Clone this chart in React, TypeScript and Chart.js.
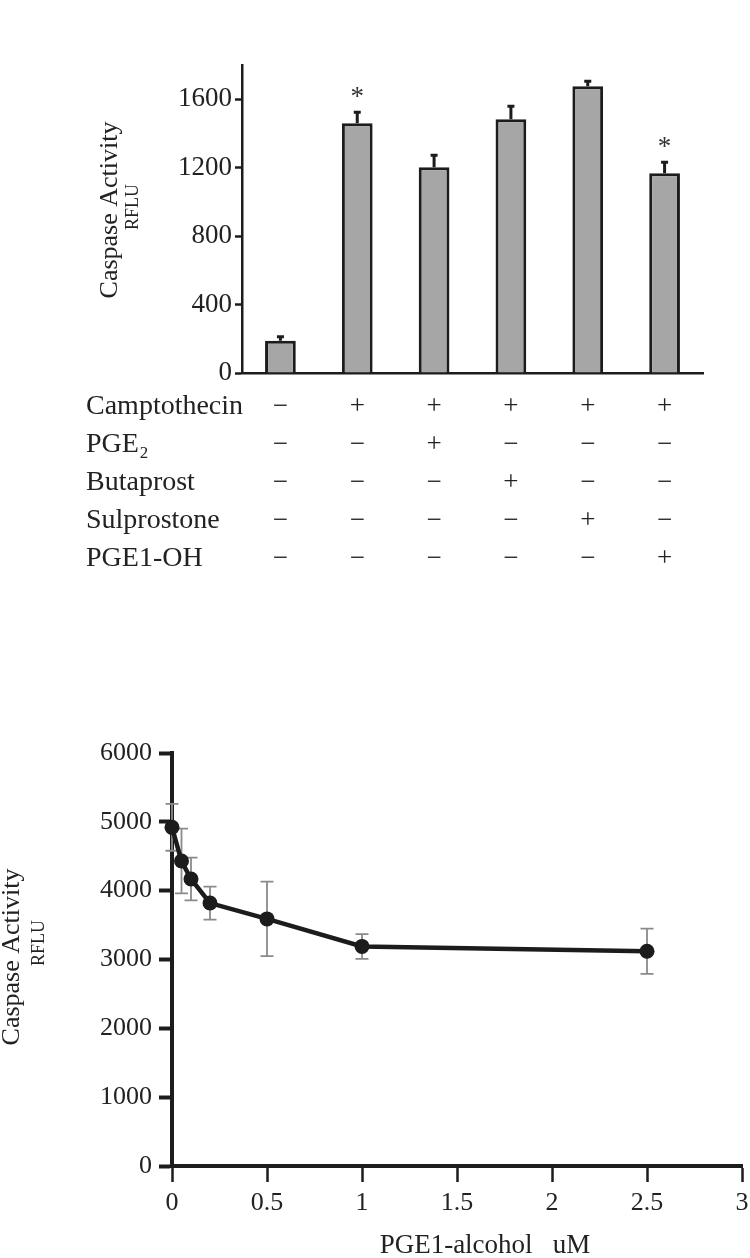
import React, { useEffect, useRef } from 'react';
import { Chart, registerables } from 'chart.js';

Chart.register(...registerables);

// ---------- Data: top bar chart ----------
const barValues = [189, 1460, 1203, 1483, 1676, 1168];
const barErrors = [23, 64, 70, 76, 29, 64];
const barSignificance = ['', '*', '', '', '', '*'];
const treatmentNames = ['Camptothecin', 'PGE₂', 'Butaprost', 'Sulprostone', 'PGE1-OH'];
const treatmentMatrix = [
  ['−', '+', '+', '+', '+', '+'],
  ['−', '−', '+', '−', '−', '−'],
  ['−', '−', '−', '+', '−', '−'],
  ['−', '−', '−', '−', '+', '−'],
  ['−', '−', '−', '−', '−', '+'],
];
const barYMax = 1800;
const barYStep = 200;
const barYLabelStep = 400;

// ---------- Data: bottom dose-response chart ----------
const doseX = [0, 0.05, 0.1, 0.2, 0.5, 1, 2.5];
const doseY = [4920, 4430, 4170, 3820, 3590, 3190, 3120];
const doseErr = [340, 470, 310, 240, 540, 180, 330];
const doseXMax = 3;
const doseXStep = 0.5;
const doseYMax = 6000;
const doseYStep = 1000;

const SERIF = '"Liberation Serif", "Times New Roman", "DejaVu Serif", serif';
const INK = '#1c1c1c';
const TEXT = '#222222';

type TextItem = { text: string; x: number; y: number; size: number; rotate?: boolean };

function textPlugin(id: string, items: TextItem[]) {
  return {
    id,
    afterDraw(chart: any) {
      const ctx = chart.ctx;
      ctx.save();
      ctx.fillStyle = TEXT;
      ctx.textAlign = 'center';
      ctx.textBaseline = 'middle';
      for (const it of items) {
        ctx.save();
        ctx.font = `${it.size}px ${SERIF}`;
        ctx.translate(it.x, it.y);
        if (it.rotate) ctx.rotate(-Math.PI / 2);
        ctx.fillText(it.text, 0, 0);
        ctx.restore();
      }
      ctx.restore();
    },
  };
}

const TABLE_PAD = 15;
const TABLE_LINE = 38;

const barErrorPlugin = {
  id: 'barErrors',
  afterDatasetsDraw(chart: any) {
    const ctx = chart.ctx;
    const yScale = chart.scales.y;
    const meta = chart.getDatasetMeta(0);
    ctx.save();
    ctx.strokeStyle = INK;
    ctx.lineWidth = 3;
    meta.data.forEach((el: any, i: number) => {
      const yTop = yScale.getPixelForValue(barValues[i] + barErrors[i]);
      ctx.beginPath();
      ctx.moveTo(el.x, el.y);
      ctx.lineTo(el.x, yTop);
      ctx.moveTo(el.x - 3.5, yTop);
      ctx.lineTo(el.x + 3.5, yTop);
      ctx.stroke();
      if (barSignificance[i]) {
        ctx.fillStyle = '#333';
        ctx.font = `27px ${SERIF}`;
        ctx.textAlign = 'center';
        ctx.textBaseline = 'alphabetic';
        ctx.fillText(barSignificance[i], el.x, yTop - 20 + 13);
      }
    });
    ctx.restore();
  },
};

const rowLabelPlugin = {
  id: 'rowLabels',
  afterDraw(chart: any) {
    const ctx = chart.ctx;
    const xScale = chart.scales.x;
    ctx.save();
    ctx.fillStyle = TEXT;
    ctx.font = `28px ${SERIF}`;
    ctx.textAlign = 'left';
    ctx.textBaseline = 'middle';
    treatmentNames.forEach((name, i) => {
      const y = xScale.top + TABLE_PAD + TABLE_LINE / 2 + i * TABLE_LINE;
      ctx.fillText(name, 86, y);
    });
    ctx.restore();
  },
};

const doseErrorPlugin = {
  id: 'doseErrors',
  beforeDatasetsDraw(chart: any) {
    const ctx = chart.ctx;
    const yScale = chart.scales.y;
    const meta = chart.getDatasetMeta(0);
    ctx.save();
    ctx.strokeStyle = '#8a8a8a';
    ctx.lineWidth = 1.8;
    meta.data.forEach((el: any, i: number) => {
      const yTop = yScale.getPixelForValue(doseY[i] + doseErr[i]);
      const yBot = yScale.getPixelForValue(doseY[i] - doseErr[i]);
      ctx.beginPath();
      ctx.moveTo(el.x, yTop);
      ctx.lineTo(el.x, yBot);
      ctx.moveTo(el.x - 6.5, yTop);
      ctx.lineTo(el.x + 6.5, yTop);
      ctx.moveTo(el.x - 6.5, yBot);
      ctx.lineTo(el.x + 6.5, yBot);
      ctx.stroke();
    });
    ctx.restore();
  },
};

function makeBarConfig(): any {
  const labels = barValues.map((_, j) => treatmentMatrix.map((row) => row[j]));
  return {
    type: 'bar',
    data: {
      labels,
      datasets: [
        {
          label: 'Caspase Activity',
          data: barValues,
          backgroundColor: '#a6a6a6',
          borderColor: INK,
          borderWidth: 3,
          borderSkipped: 'bottom',
          categoryPercentage: 1,
          barPercentage: 0.4,
        },
      ],
    },
    options: {
      responsive: false,
      maintainAspectRatio: false,
      animation: false,
      layout: { padding: { top: 65, right: 47, left: 0, bottom: 0 } },
      plugins: { legend: { display: false }, tooltip: { enabled: false } },
      scales: {
        x: {
          type: 'category',
          afterFit(scale: any) {
            scale.height = 227;
          },
          grid: { display: true, drawOnChartArea: false, drawTicks: false },
          border: { display: true, color: INK, width: 2.5 },
          ticks: {
            color: TEXT,
            padding: TABLE_PAD,
            font: { family: SERIF, size: 27, lineHeight: `${TABLE_LINE}px` },
            maxRotation: 0,
            autoSkip: false,
          },
        },
        y: {
          min: 0,
          max: barYMax,
          afterFit(scale: any) {
            scale.width = 242;
          },
          grid: {
            drawOnChartArea: false,
            drawTicks: true,
            tickLength: 7,
            tickWidth: 2.5,
            tickColor: (ctx: any) => (ctx.tick && ctx.tick.value === barYMax ? 'rgba(0,0,0,0)' : INK),
          },
          border: { display: true, color: INK, width: 2.5 },
          ticks: {
            stepSize: barYStep,
            color: TEXT,
            padding: 3,
            font: { family: SERIF, size: 27 },
            callback: (v: number) => (v % barYLabelStep === 0 && v !== barYMax ? String(v) : ''),
          },
        },
      },
    },
    plugins: [
      barErrorPlugin,
      rowLabelPlugin,
      textPlugin('barTitles', [
        { text: 'Caspase Activity', x: 110, y: 210, size: 26, rotate: true },
        { text: 'RFLU', x: 133, y: 207, size: 18, rotate: true },
      ]),
    ],
  };
}

function makeDoseConfig(): any {
  return {
    type: 'line',
    data: {
      datasets: [
        {
          label: 'PGE1-alcohol',
          data: doseX.map((x, i) => ({ x, y: doseY[i] })),
          borderColor: INK,
          backgroundColor: INK,
          borderWidth: 4.5,
          pointRadius: 7.5,
          pointBackgroundColor: INK,
          pointBorderColor: INK,
          pointBorderWidth: 0,
          tension: 0,
          clip: false,
        },
      ],
    },
    options: {
      responsive: false,
      maintainAspectRatio: false,
      animation: false,
      layout: { padding: { top: 53, right: 8, left: 0, bottom: 0 } },
      plugins: { legend: { display: false }, tooltip: { enabled: false } },
      scales: {
        x: {
          type: 'linear',
          min: 0,
          max: doseXMax,
          afterFit(scale: any) {
            scale.height = 92;
            scale.paddingLeft = 0;
            scale.paddingRight = 0;
          },
          grid: {
            drawOnChartArea: false,
            drawTicks: true,
            tickLength: 16,
            tickWidth: 2.5,
            tickColor: INK,
          },
          border: { display: true, color: INK, width: 4 },
          ticks: {
            stepSize: doseXStep,
            color: TEXT,
            padding: 6,
            font: { family: SERIF, size: 26 },
            maxRotation: 0,
            callback: (v: number) => String(Number(v)),
          },
        },
        y: {
          min: 0,
          max: doseYMax,
          afterFit(scale: any) {
            scale.width = 172;
          },
          grid: {
            drawOnChartArea: false,
            drawTicks: true,
            tickLength: 13,
            tickWidth: 4,
            tickColor: INK,
          },
          border: { display: true, color: INK, width: 4 },
          ticks: {
            stepSize: doseYStep,
            color: TEXT,
            padding: 7,
            font: { family: SERIF, size: 26 },
            callback: (v: number) => String(v),
          },
        },
      },
    },
    plugins: [
      doseErrorPlugin,
      textPlugin('doseTitles', [
        { text: 'Caspase Activity', x: 12, y: 957, size: 26, rotate: true },
        { text: 'RFLU', x: 39, y: 943, size: 18, rotate: true },
        { text: 'PGE1-alcohol   uM', x: 485, y: 1246, size: 27 },
      ].map((t) => ({ ...t, y: t.y - 700 }))),
    ],
  };
}

function ChartCanvas({ width, height, top, makeConfig }: { width: number; height: number; top: number; makeConfig: () => any }) {
  const ref = useRef<HTMLCanvasElement>(null);
  useEffect(() => {
    const chart = new Chart(ref.current as HTMLCanvasElement, makeConfig());
    return () => chart.destroy();
  }, []);
  return (
    <canvas
      ref={ref}
      width={width}
      height={height}
      style={{ position: 'absolute', left: 0, top, width, height, display: 'block' }}
    />
  );
}

export default function App() {
  return (
    <div style={{ position: 'absolute', left: 0, top: 0, width: 750, height: 1258, background: '#fff', overflow: 'hidden' }}>
      <ChartCanvas width={750} height={600} top={0} makeConfig={makeBarConfig} />
      <ChartCanvas width={750} height={558} top={700} makeConfig={makeDoseConfig} />
    </div>
  );
}
